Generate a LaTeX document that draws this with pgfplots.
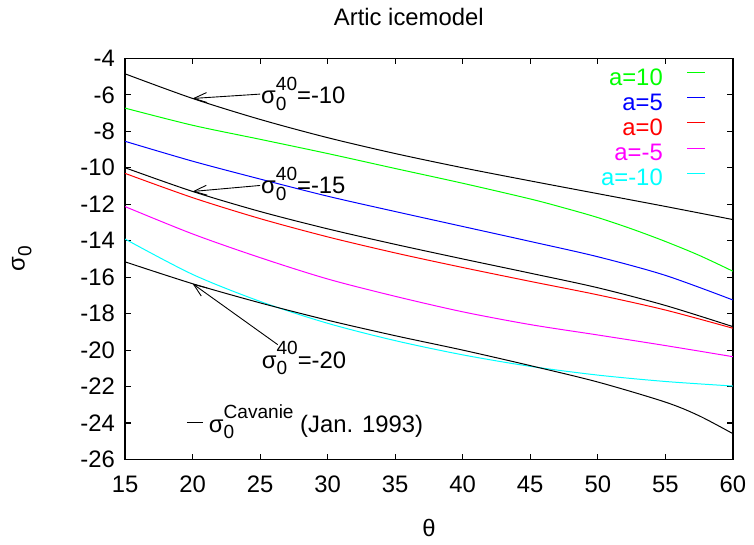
\documentclass[border=0pt]{standalone}
\usepackage{fontspec}
\setmainfont{Liberation Sans}
\usepackage{pgfplots}
\pgfplotsset{compat=1.18}
\usetikzlibrary{arrows.meta,calc}

\definecolor{gpgreen}{rgb}{0,1,0}
\definecolor{gpblue}{rgb}{0,0,1}
\definecolor{gpred}{rgb}{1,0,0}
\definecolor{gpmagenta}{rgb}{1,0,1}
\definecolor{gpcyan}{rgb}{0,1,1}

\newcommand{\SupSub}[2]{%
  \setbox0\hbox{\raisebox{6.65bp}{\fontsize{9.6bp}{10bp}\selectfont #1}}%
  \setbox2\hbox{\raisebox{-3.35bp}{\fontsize{9.6bp}{10bp}\selectfont #2}}%
  \ifdim\wd0>\wd2 \rlap{\box2}\box0 \else \rlap{\box0}\box2 \fi}

\begin{document}
\fontsize{12bp}{14bp}\selectfont
\begin{tikzpicture}
\begin{axis}[
  scale only axis, width=306bp, height=202bp,
  xmin=15, xmax=60, ymin=-26, ymax=-4,
  xtick={15,20,...,60}, ytick={-26,-24,...,-4},
  tick align=inside, major tick length=3bp,
  axis line style={line width=0.8bp},
  tick style={line width=0.6bp, black},
  /pgf/number format/assume math mode=true,
  xticklabel style={yshift=-4bp},
  yticklabel style={xshift=-1bp},
  title={Artic icemodel},
  title style={at={(axis description cs:0.4668,1.0743)}, anchor=center},
  xlabel={θ},
  every axis x label/.style={at={(axis description cs:0.5,-0.171)}, anchor=center},
  ylabel={σ\raisebox{-3.35bp}{\fontsize{9.6bp}{10bp}\selectfont 0}},
  every axis y label/.style={at={(axis description cs:-0.17,0.5)}, anchor=center, rotate=90},
  every axis plot/.append style={line width=0.5bp},
  legend style={draw=none, fill=none, at={(0.955,0.9757)}, anchor=north east,
    inner sep=0pt, outer sep=0pt, row sep=0pt, column sep=8bp,
    nodes={inner sep=0pt, text height=8.6bp, text depth=4.05bp}},
  legend plot pos=right, legend cell align=right,
  legend image code/.code={\path (0bp,4bp); \draw[#1] (4bp,4bp) -- (13bp,4bp);},
]
% a=10
\addplot[gpgreen, smooth] coordinates {(15,-6.73) (20,-7.67) (25,-8.44) (30,-9.22) (35,-10.04) (40,-10.85) (45,-11.71) (47.5,-12.2) (50,-12.73) (52.5,-13.35) (55,-14.04) (57.5,-14.8) (60,-15.67)};
\addlegendentry{\textcolor{gpgreen}{a=10}}
% a=5
\addplot[gpblue, smooth] coordinates {(15,-8.55) (20,-9.64) (25,-10.62) (30,-11.56) (35,-12.4) (40,-13.22) (45,-14.04) (50,-14.88) (55,-15.9) (60,-17.25)};
\addlegendentry{\textcolor{gpblue}{a=5}}
% a=0
\addplot[gpred, smooth] coordinates {(15,-10.31) (20,-11.64) (25,-12.79) (30,-13.79) (35,-14.67) (40,-15.47) (45,-16.23) (50,-16.97) (55,-17.8) (60,-18.8)};
\addlegendentry{\textcolor{gpred}{a=0}}
% a=-5
\addplot[gpmagenta, smooth] coordinates {(15,-12.13) (20,-13.63) (25,-14.93) (30,-16.1) (35,-17.05) (40,-17.9) (45,-18.6) (50,-19.17) (55,-19.75) (60,-20.36)};
\addlegendentry{\textcolor{gpmagenta}{a=-5}}
% a=-10
\addplot[gpcyan, smooth] coordinates {(15,-13.91) (20,-15.85) (25,-17.33) (30,-18.53) (35,-19.48) (40,-20.26) (45,-20.89) (50,-21.37) (55,-21.72) (60,-21.97)};
\addlegendentry{\textcolor{gpcyan}{a=-10}}
% Cavanie sigma40 = -10, -15, -20
\addplot[black, smooth, forget plot] coordinates {(15,-4.85) (20,-6.2) (25,-7.35) (30,-8.35) (35,-9.22) (40,-10.0) (45,-10.72) (50,-11.42) (55,-12.12) (60,-12.84)};
\addplot[black, smooth, forget plot] coordinates {(15,-10.0) (20,-11.3) (25,-12.4) (30,-13.35) (35,-14.2) (40,-15.0) (45,-15.78) (50,-16.58) (55,-17.55) (60,-18.71)};
\addplot[black, smooth, forget plot] coordinates {(15,-15.16) (20,-16.36) (25,-17.41) (30,-18.36) (35,-19.21) (40,-20.0) (45,-20.85) (50,-21.75) (55,-22.85) (57.5,-23.6) (60,-24.58)};

\draw[-{Straight Barb[length=6.5bp,width=5bp]}, line width=0.45bp] (axis cs:25.0,-5.96) -- (axis cs:20,-6.2);
\draw[-{Straight Barb[length=6.5bp,width=5bp]}, line width=0.45bp] (axis cs:25.0,-10.97) -- (axis cs:20,-11.3);
\draw[-{Straight Barb[length=6.5bp,width=5bp]}, line width=0.45bp] (axis cs:26.3,-19.7) -- (axis cs:20,-16.36);

\node[anchor=base west, inner sep=0pt] at (axis cs:25.05,-6.47) {σ\SupSub{40}{0}=-10};
\node[anchor=base west, inner sep=0pt] at (axis cs:25.05,-11.41) {σ\SupSub{40}{0}=-15};
\node[anchor=base west, inner sep=0pt] at (axis cs:25.1,-20.99) {σ\SupSub{40}{0}=-20};
\node[anchor=base west, inner sep=0pt] at (axis cs:19.54,-24.5) {\rule[4.65bp]{8.3bp}{0.5bp}\hspace{2.85bp}σ\SupSub{Cavanie}{0} (Jan. 1993)};
\end{axis}
\path ($(current axis.south west)+(-63bp,-41.5bp)$) rectangle ($(current axis.north east)+(8bp,21.5bp)$);
\end{tikzpicture}
\end{document}
